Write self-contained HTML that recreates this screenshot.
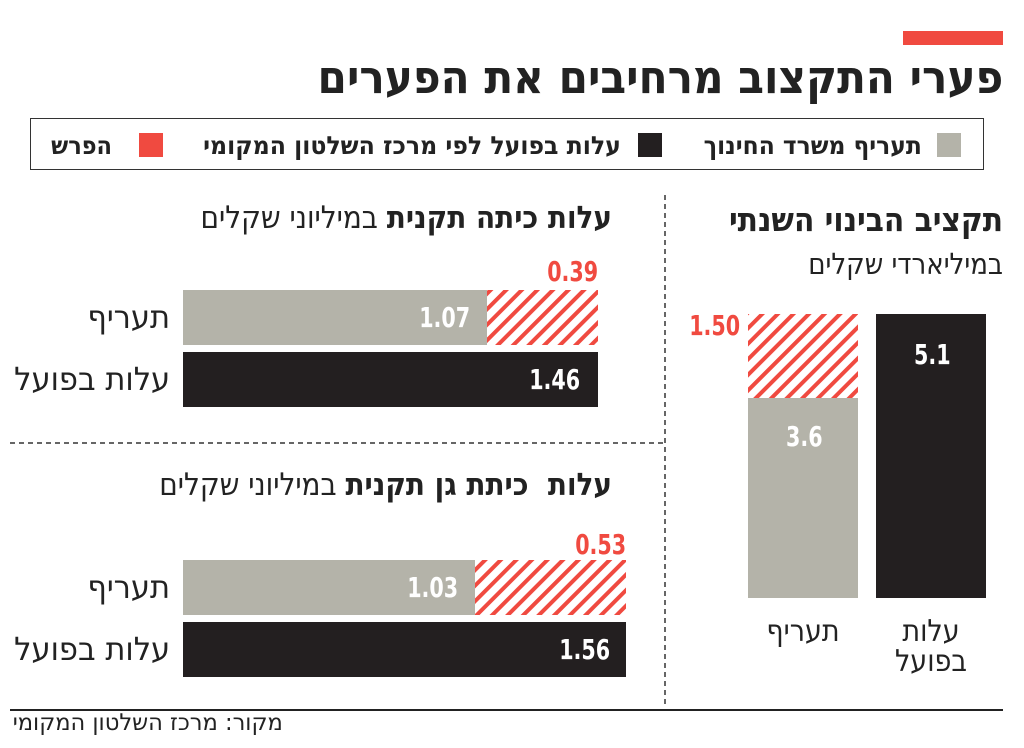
<!DOCTYPE html>
<html><head><meta charset="utf-8"><style>
body{margin:0;background:#fff;width:1024px;height:748px;overflow:hidden;position:relative;font-family:"DejaVu Sans Condensed","DejaVu Sans",sans-serif;color:#222}
.t{position:absolute;direction:rtl;white-space:nowrap;line-height:1}
.n{position:absolute;font-family:"DejaVu Sans Condensed","Liberation Sans",sans-serif;font-weight:bold;font-size:28px;line-height:1;white-space:nowrap;transform:scaleX(0.82);transform-origin:right top}
</style></head><body>
<svg width="1024" height="748" style="position:absolute;left:0;top:0">
<defs><pattern id="h" patternUnits="userSpaceOnUse" width="11" height="11" patternTransform="rotate(45)"><rect width="11" height="11" fill="#fff"/><rect x="0" y="0" width="4" height="11" fill="#f04a40"/></pattern></defs>
<rect x="903" y="31" width="100" height="14" fill="#f04a40"/>
<rect x="30.5" y="118.5" width="953" height="51" fill="none" stroke="#333" stroke-width="1"/>
<rect x="937" y="133" width="24" height="24" fill="#b4b3a9"/>
<rect x="638" y="133" width="24" height="24" fill="#231f20"/>
<rect x="139" y="133" width="24" height="24" fill="#f04a40"/>
<line x1="665" y1="195" x2="665" y2="705" stroke="#333" stroke-width="1.5" stroke-dasharray="5,4"/>
<line x1="10" y1="443" x2="665" y2="443" stroke="#333" stroke-width="1.5" stroke-dasharray="5,4"/>
<line x1="10" y1="710" x2="1003" y2="710" stroke="#222" stroke-width="2"/>
<rect x="183" y="290" width="304" height="55" fill="#b4b3a9"/>
<rect x="487" y="290" width="111" height="55" fill="url(#h)"/>
<rect x="183" y="352" width="415" height="55" fill="#231f20"/>
<rect x="183" y="560" width="292" height="55" fill="#b4b3a9"/>
<rect x="475" y="560" width="151" height="55" fill="url(#h)"/>
<rect x="183" y="622" width="443" height="55" fill="#231f20"/>
<rect x="748" y="398" width="110" height="200" fill="#b4b3a9"/>
<rect x="748" y="314" width="110" height="84" fill="url(#h)"/>
<rect x="876" y="314" width="110" height="284" fill="#231f20"/>
</svg>
<div class="t" style="right:21px;top:54px;font-size:46px;font-weight:bold;transform:scaleX(1.02);transform-origin:right top">פערי התקצוב מרחיבים את הפערים</div>
<div class="t" style="right:102px;top:133px;font-size:25px;font-weight:bold;transform:scaleX(1.04);transform-origin:right top">תעריף משרד החינוך</div>
<div class="t" style="right:403px;top:133px;font-size:25px;font-weight:bold;transform:scaleX(1.05);transform-origin:right top">עלות בפועל לפי מרכז השלטון המקומי</div>
<div class="t" style="right:912px;top:133px;font-size:25px;font-weight:bold">הפרש</div>
<div class="t" style="right:412px;top:203px;font-size:31px"><b>עלות כיתה תקנית</b> במיליוני שקלים</div>
<div class="t" style="right:412px;top:470px;font-size:31px"><b>עלות&nbsp; כיתת גן תקנית</b> במיליוני שקלים</div>
<div class="t" style="right:21px;top:203px;font-size:33px;font-weight:bold">תקציב הבינוי השנתי</div>
<div class="t" style="right:21px;top:250px;font-size:29px">במיליארדי שקלים</div>
<div class="t" style="right:854px;top:301px;font-size:32px;transform:scaleX(1.06);transform-origin:right top">תעריף</div>
<div class="t" style="right:854px;top:363px;font-size:32px;transform:scaleX(1.06);transform-origin:right top">עלות בפועל</div>
<div class="t" style="right:854px;top:571px;font-size:32px;transform:scaleX(1.06);transform-origin:right top">תעריף</div>
<div class="t" style="right:854px;top:633px;font-size:32px;transform:scaleX(1.06);transform-origin:right top">עלות בפועל</div>
<div class="t" style="left:750px;width:106px;text-align:center;top:617px;font-size:30px">תעריף</div>
<div class="t" style="left:876px;width:110px;text-align:center;top:617px;font-size:30px;line-height:1">עלות<br>בפועל</div>
<div class="t" style="right:741px;top:712px;font-size:23px;transform:scaleX(1.09);transform-origin:right top">מקור: מרכז השלטון המקומי</div>
<div class="n" style="right:554px;top:304px;color:#fff">1.07</div>
<div class="n" style="right:426px;top:258px;color:#f04a40">0.39</div>
<div class="n" style="right:444px;top:366px;color:#fff">1.46</div>
<div class="n" style="right:566px;top:574px;color:#fff">1.03</div>
<div class="n" style="right:398px;top:531px;color:#f04a40">0.53</div>
<div class="n" style="right:414px;top:636px;color:#fff">1.56</div>
<div class="n" style="right:284px;top:312px;color:#f04a40">1.50</div>
<div class="n" style="right:201px;top:423px;color:#fff">3.6</div>
<div class="n" style="right:73px;top:341px;color:#fff">5.1</div>
</body></html>
